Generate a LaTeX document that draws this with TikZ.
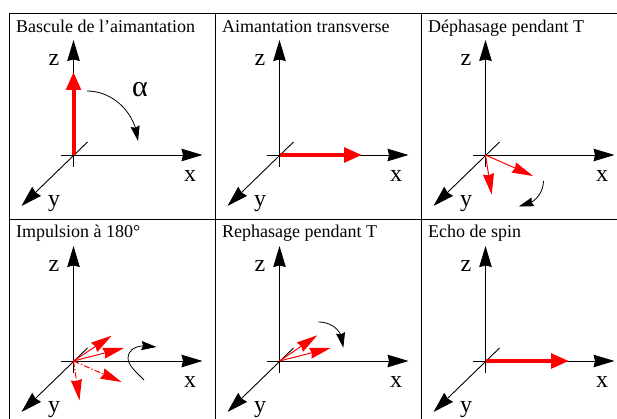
\documentclass[tikz,border=0pt]{standalone}
\usepackage{fontspec}
\setmainfont{Liberation Serif}
\usetikzlibrary{arrows.meta,bending}
\tikzset{
 axis/.style={line width=0.9pt,-{Stealth[length=21pt,width=12.5pt,inset=1.5pt]}},
 mag/.style={red,line width=1pt,-{Stealth[length=21pt,width=11pt,inset=1.5pt]}},
 magb/.style={red,line width=4pt,-{Stealth[length=18pt,width=14.5pt,inset=0pt]}},
 turn/.style={line width=0.8pt,-{Stealth[length=15pt,width=9pt,inset=1.5pt]}},
 title/.style={anchor=base west,inner sep=0pt,font=\fontsize{18}{20}\selectfont},
 axl/.style={inner sep=0pt,font=\fontsize{24}{26}\selectfont},
 greek/.style={inner sep=0pt,font=\fontsize{30}{32}\selectfont},
 cell/.style={line width=0.8pt},
 dd/.style={dash pattern=on 6pt off 2pt on 1.5pt off 2pt}
}
\newcommand{\triaxes}[3]{%
 \coordinate (#1o) at (#2,#3);
 \draw[axis] ([shift={(0,-12)}]#1o) -- ([shift={(0,115)}]#1o);
 \draw[axis] ([shift={(-13,0)}]#1o) -- ([shift={(129,0)}]#1o);
 \draw[axis] ([shift={(14,13)}]#1o) -- ([shift={(-52,-51)}]#1o);
 \node[axl] (#1z) at ([shift={(-19.5,95)}]#1o) {z};
 \node[axl] (#1x) at ([shift={(116.5,-21)}]#1o) {x};
 \node[axl] (#1y) at ([shift={(-19.5,-49)}]#1o) {y};
}
\begin{document}
\begin{tikzpicture}[x=1pt,y=1pt]
\useasboundingbox (0,0) rectangle (617,419);
\fill[white] (0,0) rectangle (617,419);
% grid
\coordinate (tl) at (9,405.5); \coordinate (tr) at (617,405.5);
\coordinate (ml) at (9,200); \coordinate (mr) at (617,200);
\draw[cell] (tr) -- (tl) -- (9,0);
\draw[cell] (ml) -- (mr);
\draw[cell] (215,405.5) -- (215,0);
\draw[cell] (421,405.5) -- (421,0);
% titles
\node[title] (t1) at (16,386.5) {Bascule de l’aimantation};
\node[title] (t2) at (222,386.5) {Aimantation transverse};
\node[title] (t3) at (428,386.5) {Déphasage pendant T};
\node[title] (t4) at (16,181) {Impulsion à 180°};
\node[title] (t5) at (222,181) {Rephasage pendant T};
\node[title] (t6) at (428,181) {Echo de spin};
% axes
\triaxes{a}{73.5}{264}
\triaxes{b}{279.5}{264}
\triaxes{c}{485.5}{264}
\triaxes{d}{73.5}{58}
\triaxes{e}{279.5}{58}
\triaxes{f}{485.5}{58}
% panel 1
\coordinate (a1) at (73.5,347);
\draw[magb] (ao) -- (a1);
\coordinate (a2) at (87,328); \coordinate (a3) at (138,278);
\draw[turn] (a2) .. controls (113,328) and (136,306) .. (a3);
\node[greek] (alpha) at (140,329) {α};
% panel 2
\coordinate (b1) at (362,264);
\draw[magb] (bo) -- (b1);
% panel 3
\coordinate (c1) at (533,243); \coordinate (c2) at (491.7,224.3);
\draw[mag] (co) -- (c1);
\draw[mag] (co) -- (c2);
\coordinate (c3) at (543.5,238); \coordinate (c4) at (518.7,212.5);
\draw[turn] (c3) .. controls (543,224) and (533,214) .. (c4);
% panel 4
\coordinate (d1) at (111.7,83.3); \coordinate (d2) at (124,71);
\coordinate (d3) at (121.5,37); \coordinate (d4) at (79.5,18.5);
\draw[mag] (do) -- (d1);
\draw[mag] (do) -- (d2);
\draw[mag,dd] (do) -- (d3);
\draw[mag,dd] (do) -- (d4);
\coordinate (d5) at (144,39); \coordinate (d7) at (128,61); \coordinate (d6) at (156.5,72);
\draw[turn] (d5) .. controls (135,48) and (128,54) .. (d7) .. controls (128,70) and (138,76) .. (d6);
% panel 5
\coordinate (e1) at (317.3,83.7); \coordinate (e2) at (330.7,71);
\draw[mag] (eo) -- (e1);
\draw[mag] (eo) -- (e2);
\coordinate (e3) at (318.3,97); \coordinate (e4) at (343.3,71.3);
\draw[turn] (e3) .. controls (332,97) and (344,88) .. (e4);
% panel 6
\coordinate (f1) at (569,58);
\draw[magb] (fo) -- (f1);
\end{tikzpicture}
\end{document}
